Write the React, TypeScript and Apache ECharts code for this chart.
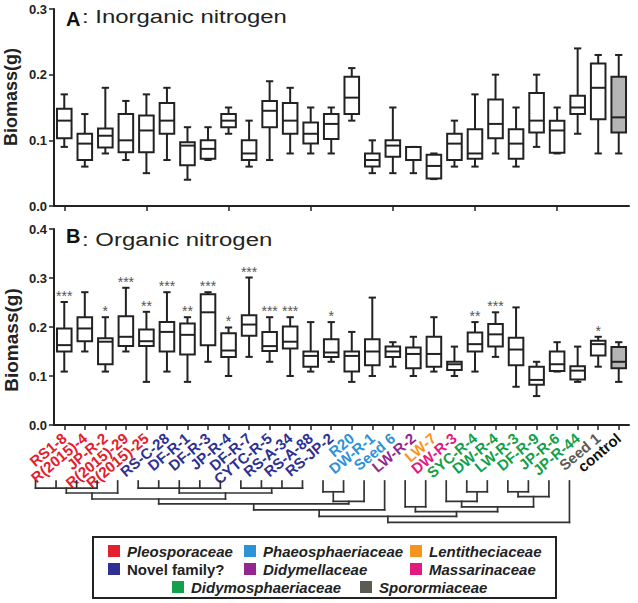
import React, { useEffect, useRef } from 'react';
import * as echarts from 'echarts';

const categories = [
  'RS1-8', 'R(2015)-4', 'JP-R-2', 'R(2015)-29', 'R(2015)-25', 'RS-C-28', 'DF-R-1', 'DF-R-3',
  'JP-R-4', 'DF-R-7', 'CYTC-R-5', 'RS-A-34', 'RS-A-88', 'RS-JP-2', 'R20', 'DW-R-1', 'Seed 6',
  'LW-R-2', 'LW-7', 'DW-R-3', 'SYC-R-4', 'DW-R-4', 'LW-R-3', 'DF-R-9', 'JP-R-6', 'JP-R-44',
  'Seed 1', 'control',
];

// family index of each category label (8 = control)
const labelFamily = [0, 0, 0, 0, 0, 1, 1, 1, 1, 1, 1, 1, 1, 1, 2, 2, 2, 3, 4, 5, 6, 6, 6, 6, 6, 6, 7, 8];

const familyNames = [
  'Pleosporaceae', 'Novel family?', 'Phaeosphaeriaceae', 'Didymellaceae', 'Lentitheciaceae',
  'Massarinaceae', 'Didymosphaeriaceae', 'Sporormiaceae', 'control',
];
const familyColors = ['#e5202e', '#2e3192', '#2b93d6', '#93278f', '#f7941d', '#e2197f', '#13a04b', '#5b5b53', '#111111'];

// [min, q1, median, q3, max]
const inorganic = [
  [0.090, 0.103, 0.130, 0.148, 0.170],
  [0.060, 0.070, 0.095, 0.110, 0.140],
  [0.080, 0.089, 0.107, 0.118, 0.180],
  [0.070, 0.082, 0.100, 0.140, 0.160],
  [0.050, 0.082, 0.115, 0.138, 0.170],
  [0.070, 0.110, 0.130, 0.157, 0.180],
  [0.040, 0.062, 0.092, 0.097, 0.120],
  [0.070, 0.072, 0.087, 0.100, 0.120],
  [0.110, 0.120, 0.130, 0.140, 0.150],
  [0.060, 0.070, 0.080, 0.100, 0.130],
  [0.070, 0.120, 0.145, 0.160, 0.190],
  [0.080, 0.110, 0.130, 0.157, 0.180],
  [0.080, 0.095, 0.110, 0.127, 0.150],
  [0.080, 0.102, 0.125, 0.140, 0.150],
  [0.130, 0.140, 0.165, 0.197, 0.210],
  [0.050, 0.060, 0.070, 0.080, 0.100],
  [0.050, 0.075, 0.092, 0.100, 0.150],
  [0.050, 0.070, 0.070, 0.090, 0.090],
  [0.041, 0.042, 0.061, 0.078, 0.080],
  [0.060, 0.070, 0.095, 0.110, 0.130],
  [0.060, 0.072, 0.080, 0.117, 0.170],
  [0.080, 0.103, 0.125, 0.162, 0.200],
  [0.060, 0.072, 0.095, 0.117, 0.150],
  [0.090, 0.112, 0.130, 0.172, 0.200],
  [0.080, 0.081, 0.115, 0.130, 0.150],
  [0.110, 0.140, 0.150, 0.168, 0.240],
  [0.080, 0.132, 0.180, 0.217, 0.230],
  [0.080, 0.112, 0.135, 0.197, 0.230],
];

const organic = [
  [0.109, 0.150, 0.163, 0.197, 0.251],
  [0.150, 0.171, 0.197, 0.220, 0.271],
  [0.109, 0.124, 0.170, 0.177, 0.220],
  [0.150, 0.161, 0.180, 0.222, 0.280],
  [0.088, 0.161, 0.171, 0.195, 0.231],
  [0.109, 0.150, 0.190, 0.210, 0.271],
  [0.088, 0.144, 0.184, 0.207, 0.220],
  [0.129, 0.163, 0.230, 0.267, 0.271],
  [0.100, 0.139, 0.152, 0.187, 0.199],
  [0.139, 0.182, 0.205, 0.224, 0.301],
  [0.129, 0.151, 0.161, 0.190, 0.220],
  [0.100, 0.156, 0.170, 0.201, 0.220],
  [0.109, 0.119, 0.141, 0.150, 0.210],
  [0.129, 0.139, 0.148, 0.175, 0.210],
  [0.088, 0.109, 0.141, 0.150, 0.190],
  [0.100, 0.122, 0.150, 0.175, 0.260],
  [0.119, 0.139, 0.150, 0.160, 0.169],
  [0.100, 0.116, 0.145, 0.158, 0.180],
  [0.109, 0.119, 0.145, 0.180, 0.220],
  [0.100, 0.112, 0.124, 0.129, 0.160],
  [0.109, 0.150, 0.165, 0.189, 0.210],
  [0.139, 0.160, 0.185, 0.206, 0.230],
  [0.078, 0.122, 0.154, 0.178, 0.240],
  [0.059, 0.082, 0.092, 0.119, 0.129],
  [0.109, 0.110, 0.124, 0.150, 0.169],
  [0.088, 0.093, 0.111, 0.120, 0.160],
  [0.119, 0.142, 0.165, 0.172, 0.180],
  [0.088, 0.116, 0.129, 0.159, 0.169],
];

const organicStars = [
  '***', '', '*', '***', '**', '***', '**', '***', '*', '***', '***', '***', '', '*',
  '', '', '', '', '', '', '**', '***', '', '', '', '', '*', '',
];

const inorganicTicks = [0, 0.1, 0.2, 0.3];
const organicTicks = [0, 0.1, 0.2, 0.3, 0.4];

// dendrogram merges: [name, children (leaf = category index), merge height]
const dendroMerges: [string, (number | string)[], number][] = [
  ['P1', [0, 1, 2, 3], 1.2],
  ['P', ['P1', 4], 2.0],
  ['N1', [5, 6, 7, 8, 9], 1.2],
  ['N2', [10, 11, 12, 13], 1.2],
  ['N', ['N1', 'N2'], 2.0],
  ['PN', ['P', 'N'], 3.0],
  ['Ph1', [14, 15], 1.8],
  ['Ph', ['Ph1', 16], 3.4],
  ['A', ['PN', 'Ph'], 3.8],
  ['B', ['A', 17], 4.8],
  ['M1', [18, 19], 4.3],
  ['D1', [21, 22], 1.8],
  ['D2', [20, 'D1'], 3.4],
  ['D3', [23, 24], 1.8],
  ['D4', ['D3', 25], 2.6],
  ['D5', ['D2', 'D4'], 4.3],
  ['D', ['M1', 'D5'], 5.1],
  ['C', ['B', 'D'], 5.9],
  ['R', ['C', 26], 6.9],
];

const legendOrder = [0, 2, 4, 1, 3, 5, 6, 7];

const FONT = 'Arial, "Liberation Sans", Helvetica, sans-serif';
const INK = '#222222';

function dendroSegments(leafShift: number) {
  const pos: Record<string, { x: number; h: number }> = {};
  const segs: number[][] = [];
  const get = (c: number | string) => (typeof c === 'number' ? { x: c - leafShift, h: 0 } : pos[c]);
  for (const [name, children, h] of dendroMerges) {
    const cs = children.map(get);
    cs.forEach((c) => segs.push([c.x, c.h, c.x, h]));
    const xs = cs.map((c) => c.x);
    const x0 = Math.min(...xs);
    const x1 = Math.max(...xs);
    segs.push([x0, h, x1, h]);
    pos[name] = { x: (x0 + x1) / 2, h };
  }
  return segs;
}

function boxRenderer(stars: string[] | null, fillIndex: number) {
  return (params: any, api: any) => {
    const i = api.value(0);
    const lo = api.coord([i, api.value(1)]);
    const q1 = api.coord([i, api.value(2)]);
    const md = api.coord([i, api.value(3)]);
    const q3 = api.coord([i, api.value(4)]);
    const hi = api.coord([i, api.value(5)]);
    const bw = api.size([1, 0])[0] * 0.71;
    const cw = bw * 0.5;
    const x = lo[0];
    const st = { stroke: INK, lineWidth: 2, fill: 'none' };
    const children: any[] = [
      { type: 'line', shape: { x1: x, y1: hi[1], x2: x, y2: q3[1] }, style: st },
      { type: 'line', shape: { x1: x, y1: q1[1], x2: x, y2: lo[1] }, style: st },
      { type: 'line', shape: { x1: x - cw / 2, y1: hi[1], x2: x + cw / 2, y2: hi[1] }, style: st },
      { type: 'line', shape: { x1: x - cw / 2, y1: lo[1], x2: x + cw / 2, y2: lo[1] }, style: st },
      {
        type: 'rect',
        shape: { x: x - bw / 2, y: q3[1], width: bw, height: q1[1] - q3[1] },
        style: { stroke: INK, lineWidth: 2, fill: params.dataIndex === fillIndex ? '#b5b5b5' : '#ffffff' },
      },
      { type: 'line', shape: { x1: x - bw / 2, y1: md[1], x2: x + bw / 2, y2: md[1] }, style: st },
    ];
    const s = stars ? stars[params.dataIndex] : '';
    if (s) {
      children.push({
        type: 'text',
        style: {
          text: s, x, y: hi[1] + 1, align: 'center', verticalAlign: 'bottom',
          font: `14px ${FONT}`, fill: '#555555',
        },
      });
    }
    return { type: 'group', children };
  };
}

export default function App() {
  const ref = useRef<HTMLDivElement>(null);
  useEffect(() => {
    const chart = echarts.init(ref.current!, null, { renderer: 'svg' });
    const controlIndex = categories.indexOf('control');
    const segs = dendroSegments(1.4);

    const catAxisBase = {
      type: 'category' as const,
      data: categories,
      boundaryGap: true,
      axisLine: { show: true, lineStyle: { color: INK, width: 2 } },
      axisTick: { show: true, alignWithLabel: true, length: 5, lineStyle: { color: INK, width: 1.5 } },
      splitLine: { show: false },
    };
    const valAxisBase = (max: number) => ({
      type: 'value' as const,
      min: 0,
      max,
      interval: 0.1,
      axisLine: { show: true, lineStyle: { color: INK, width: 2 } },
      axisTick: { show: true, length: 5, lineStyle: { color: INK, width: 1.5 } },
      splitLine: { show: false },
      axisLabel: {
        margin: 7,
        color: INK,
        fontWeight: 'bold' as const,
        fontSize: 13,
        fontFamily: FONT,
        formatter: (v: number) => v.toFixed(1),
      },
    });

    const legendPos = [
      [108, 551], [244, 551], [410, 551],
      [108, 569], [244, 569], [410, 569],
      [172, 587], [360, 587],
    ];
    const legendEls: any[] = [
      {
        type: 'rect', shape: { x: 93, y: 537, width: 463, height: 61 },
        style: { fill: '#fff', stroke: INK, lineWidth: 2 },
      },
    ];
    legendOrder.forEach((f, k) => {
      const [lx, ly] = legendPos[k];
      legendEls.push({
        type: 'rect', shape: { x: lx, y: ly - 6, width: 12, height: 12 },
        style: { fill: familyColors[f] },
      });
      legendEls.push({
        type: 'text', x: lx + 19, y: ly,
        style: {
          text: familyNames[f], fill: INK, align: 'left', verticalAlign: 'middle',
          font: `${f === 1 ? 'normal' : 'italic'} bold 15px ${FONT}`,
        },
      });
    });

    const option: any = {
      animation: false,
      backgroundColor: '#ffffff',
      grid: [
        { left: 54, top: 9, width: 575, height: 197 },
        { left: 54, top: 229, width: 575, height: 196 },
        { left: 54, top: 481, width: 575, height: 42 },
      ],
      xAxis: [
        { ...catAxisBase, gridIndex: 0, axisLabel: { show: false } },
        {
          ...catAxisBase,
          gridIndex: 1,
          data: categories.map((c, i) => ({ value: c, textStyle: { color: familyColors[labelFamily[i]] } })),
          axisLabel: {
            interval: 0, rotate: 40, margin: 11, fontSize: 15, fontWeight: 'bold', fontFamily: FONT,
          },
        },
        { type: 'value', gridIndex: 2, min: -0.5, max: 27.5, show: false },
      ],
      yAxis: [
        { ...valAxisBase(0.3), gridIndex: 0 },
        { ...valAxisBase(0.4), gridIndex: 1 },
        { type: 'value', gridIndex: 2, min: 0, max: 7, inverse: true, show: false },
      ],
      series: [
        {
          type: 'custom', xAxisIndex: 0, yAxisIndex: 0,
          data: inorganic.map((d, i) => [i, ...d]),
          encode: { x: 0, y: [1, 2, 3, 4, 5] },
          renderItem: boxRenderer(null, controlIndex),
        },
        {
          type: 'custom', xAxisIndex: 1, yAxisIndex: 1,
          data: organic.map((d, i) => [i, ...d]),
          encode: { x: 0, y: [1, 2, 3, 4, 5] },
          renderItem: boxRenderer(organicStars, controlIndex),
        },
        {
          type: 'custom', xAxisIndex: 2, yAxisIndex: 2,
          data: segs,
          encode: { x: [0, 2], y: [1, 3] },
          clip: false,
          renderItem: (p: any, api: any) => {
            const a = api.coord([api.value(0), api.value(1)]);
            const b = api.coord([api.value(2), api.value(3)]);
            return {
              type: 'line',
              shape: { x1: a[0], y1: a[1], x2: b[0], y2: b[1] },
              style: { stroke: '#333333', lineWidth: 1.7, lineCap: 'square' },
            };
          },
        },
      ],
      graphic: {
        elements: [
          {
            type: 'text', x: 66, y: 19,
            style: { text: 'A', font: `bold 20px ${FONT}`, fill: '#111', align: 'left', verticalAlign: 'middle' },
          },
          {
            type: 'text', x: 82, y: 16, scaleX: 1.26,
            style: { text: ': Inorganic nitrogen', font: `19px ${FONT}`, fill: INK, align: 'left', verticalAlign: 'middle' },
          },
          {
            type: 'text', x: 66, y: 236,
            style: { text: 'B', font: `bold 20px ${FONT}`, fill: '#111', align: 'left', verticalAlign: 'middle' },
          },
          {
            type: 'text', x: 82, y: 239, scaleX: 1.26,
            style: { text: ': Organic nitrogen', font: `19px ${FONT}`, fill: INK, align: 'left', verticalAlign: 'middle' },
          },
          {
            type: 'text', x: 11, y: 97, rotation: Math.PI / 2,
            style: { text: 'Biomass(g)', font: `bold 18px ${FONT}`, fill: INK, align: 'center', verticalAlign: 'middle' },
          },
          {
            type: 'text', x: 11, y: 340, rotation: Math.PI / 2,
            style: { text: 'Biomass(g)', font: `bold 19px ${FONT}`, fill: INK, align: 'center', verticalAlign: 'middle' },
          },
          ...legendEls,
        ],
      },
    };
    // tick arrays used for axis settings
    option.yAxis[0].max = inorganicTicks[inorganicTicks.length - 1];
    option.yAxis[1].max = organicTicks[organicTicks.length - 1];
    chart.setOption(option);
    return () => chart.dispose();
  }, []);
  return (
    <div
      ref={ref}
      style={{ position: 'fixed', left: 0, top: 0, width: 638, height: 603, background: '#fff' }}
    />
  );
}
